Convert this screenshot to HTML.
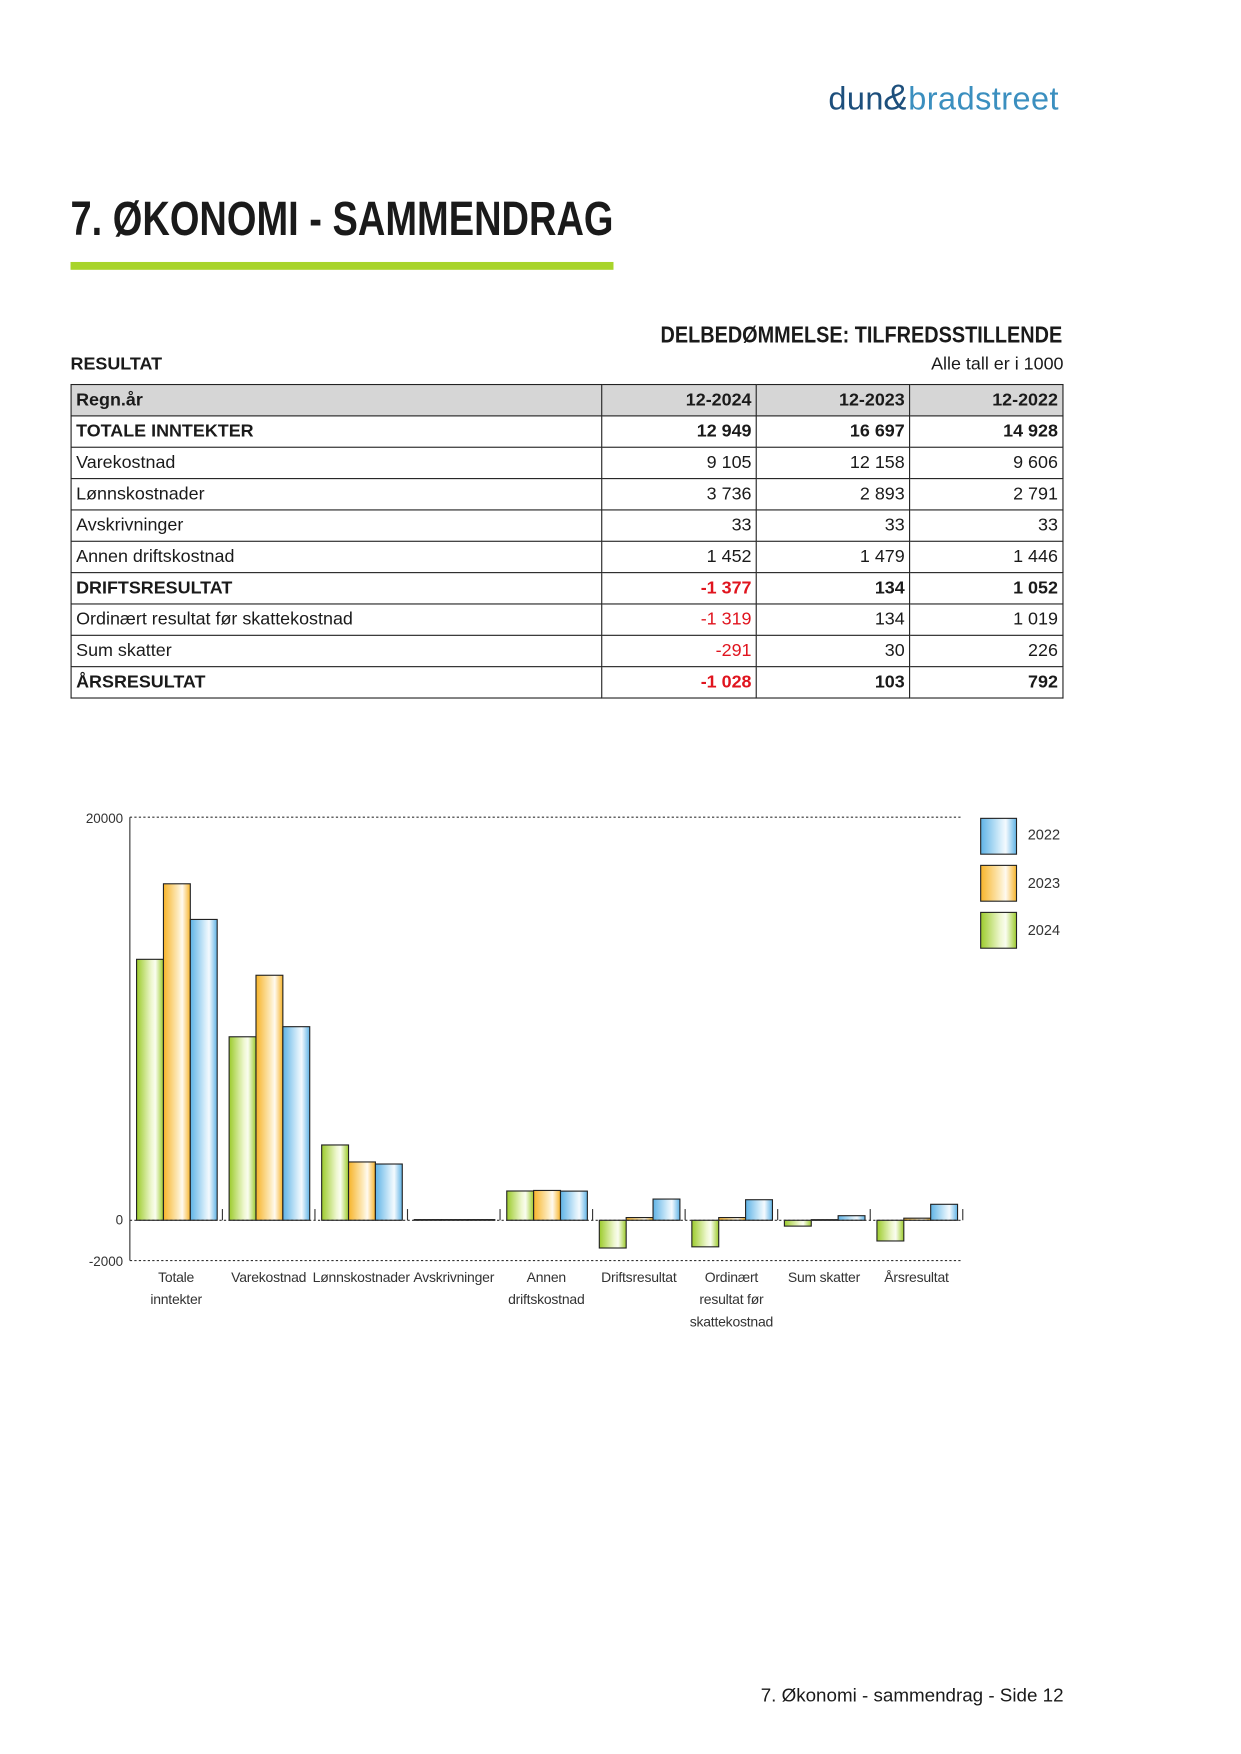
<!DOCTYPE html>
<html><head><meta charset="utf-8">
<style>
html,body{margin:0;padding:0;background:#fff;}
body{width:1241px;height:1754px;overflow:hidden;position:relative;}
#w{position:absolute;left:0;top:0;width:1109px;height:1567px;transform:scale(1.1195);transform-origin:0 0;font-family:"Liberation Sans",Arial,sans-serif;color:#1a1a1a;}
.abs{position:absolute;}
table{position:absolute;left:63px;top:343px;width:887px;border-collapse:collapse;font-size:16px;}
td{border:1px solid #222;height:27px;padding:0 4px;line-height:27px;}
td.n{text-align:right;}
tr.h td{background:#d6d6d6;font-weight:bold;}
tr.b td{font-weight:bold;}
.r{color:#e0141e;}
</style></head><body><div id="w">
<div class="abs" style="left:740px;top:69px;font-size:29px;letter-spacing:0.4px;"><span style="color:#1d4f7c">dun</span><span style="color:#1d4f7c;font-style:italic;font-size:32px">&amp;</span><span style="color:#3b8fbf">bradstreet</span></div>
<div class="abs" style="left:63px;top:172px;font-weight:bold;font-size:43px;transform:scaleX(0.79);transform-origin:0 0;white-space:nowrap;color:#1a1a1a;">7. ØKONOMI - SAMMENDRAG</div>
<div class="abs" style="left:63px;top:234px;width:485px;height:7px;background:#a8d42a;"></div>
<div class="abs" style="left:590px;top:288px;font-weight:bold;font-size:21px;transform:scaleX(0.845);transform-origin:0 0;white-space:nowrap;">DELBEDØMMELSE: TILFREDSSTILLENDE</div>
<div class="abs" style="left:63px;top:317px;font-weight:bold;font-size:16px;">RESULTAT</div>
<div class="abs" style="right:159px;top:317px;font-size:16px;">Alle tall er i 1000</div>
<table>
<colgroup><col style="width:475px"><col style="width:138px"><col style="width:137px"><col style="width:137px"></colgroup>
<tr class="h"><td>Regn.år</td><td class="n">12-2024</td><td class="n">12-2023</td><td class="n">12-2022</td></tr>
<tr class="b"><td>TOTALE INNTEKTER</td><td class="n">12 949</td><td class="n">16 697</td><td class="n">14 928</td></tr>
<tr><td>Varekostnad</td><td class="n">9 105</td><td class="n">12 158</td><td class="n">9 606</td></tr>
<tr><td>Lønnskostnader</td><td class="n">3 736</td><td class="n">2 893</td><td class="n">2 791</td></tr>
<tr><td>Avskrivninger</td><td class="n">33</td><td class="n">33</td><td class="n">33</td></tr>
<tr><td>Annen driftskostnad</td><td class="n">1 452</td><td class="n">1 479</td><td class="n">1 446</td></tr>
<tr class="b"><td>DRIFTSRESULTAT</td><td class="n r">-1 377</td><td class="n">134</td><td class="n">1 052</td></tr>
<tr><td>Ordinært resultat før skattekostnad</td><td class="n r">-1 319</td><td class="n">134</td><td class="n">1 019</td></tr>
<tr><td>Sum skatter</td><td class="n r">-291</td><td class="n">30</td><td class="n">226</td></tr>
<tr class="b"><td>ÅRSRESULTAT</td><td class="n r">-1 028</td><td class="n">103</td><td class="n">792</td></tr>
</table>
<svg class="abs" style="left:0;top:0" width="1109" height="1567" font-family="Liberation Sans, Arial, sans-serif">
<defs>
<linearGradient id="g" x1="0" x2="1"><stop offset="0" stop-color="#9ccb2c"/><stop offset="0.55" stop-color="#eef7cf"/><stop offset="0.7" stop-color="#fafdf0"/><stop offset="1" stop-color="#9ccb2c"/></linearGradient>
<linearGradient id="o" x1="0" x2="1"><stop offset="0" stop-color="#f7b42a"/><stop offset="0.55" stop-color="#fdebbf"/><stop offset="0.7" stop-color="#fffaf0"/><stop offset="1" stop-color="#f7b42a"/></linearGradient>
<linearGradient id="b" x1="0" x2="1"><stop offset="0" stop-color="#5fb3e6"/><stop offset="0.55" stop-color="#d6edfa"/><stop offset="0.7" stop-color="#f4fafe"/><stop offset="1" stop-color="#5fb3e6"/></linearGradient>
</defs>
<line x1="116" y1="730" x2="860" y2="730" stroke="#333" stroke-dasharray="2,2"/>
<line x1="116" y1="1126" x2="860" y2="1126" stroke="#333" stroke-dasharray="2,2"/>
<line x1="116" y1="730" x2="116" y2="1126" stroke="#333"/>
<text x="110" y="735" font-size="12" text-anchor="end" fill="#333">20000</text>
<text x="110" y="1094" font-size="12" text-anchor="end" fill="#333">0</text>
<text x="110" y="1131" font-size="12" text-anchor="end" fill="#333">-2000</text>
<g id="bars" stroke="#222" stroke-width="1"></g>
<line x1="116" y1="1090" x2="860" y2="1090" stroke="#333" stroke-dasharray="2,2"/>
<g id="ticks" stroke="#333"></g>
<g id="labels" font-size="12.5" letter-spacing="-0.2" fill="#333" text-anchor="middle"></g>
<rect x="876" y="731" width="32" height="32" fill="url(#b)" stroke="#222"/>
<rect x="876" y="773" width="32" height="32" fill="url(#o)" stroke="#222"/>
<rect x="876" y="815" width="32" height="32" fill="url(#g)" stroke="#222"/>
<text x="918" y="750" font-size="13" fill="#333">2022</text>
<text x="918" y="793" font-size="13" fill="#333">2023</text>
<text x="918" y="835" font-size="13" fill="#333">2024</text>
</svg>
<div class="abs" style="right:159px;top:1505px;font-size:16.8px;">7. Økonomi - sammendrag - Side 12</div>
</div>
<script>
var d=[[12949,16697,14928],[9105,12158,9606],[3736,2893,2791],[33,33,33],[1452,1479,1446],[-1377,134,1052],[-1319,134,1019],[-291,30,226],[-1028,103,792]];
var L=[["Totale","inntekter"],["Varekostnad"],["Lønnskostnader"],["Avskrivninger"],["Annen","driftskostnad"],["Driftsresultat"],["Ordinært","resultat før","skattekostnad"],["Sum skatter"],["Årsresultat"]];
var f=["url(#g)","url(#o)","url(#b)"],ns="http://www.w3.org/2000/svg",gw=744/9;
var bars=document.getElementById("bars"),tk=document.getElementById("ticks"),lb=document.getElementById("labels");
function el(p,t,a){var e=document.createElementNS(ns,t);for(var k in a)e.setAttribute(k,a[k]);p.appendChild(e);return e;}
for(var i=0;i<9;i++){var x0=116+i*gw+6;
for(var j=0;j<3;j++){var v=d[i][j],h=Math.abs(v)*0.018,y=v>=0?1090-h:1090;
el(bars,"rect",{x:x0+j*24,y:y,width:24,height:Math.max(h,0.6),fill:f[j]});}
if(i>0){var tx=116+i*gw;el(tk,"line",{x1:tx,y1:1080,x2:tx,y2:1090});}
for(var k=0;k<L[i].length;k++){var t=el(lb,"text",{x:116+i*gw+gw/2,y:1145+k*20});t.textContent=L[i][k];}}
el(tk,"line",{x1:860,y1:1080,x2:860,y2:1090});
</script>
</body></html>
